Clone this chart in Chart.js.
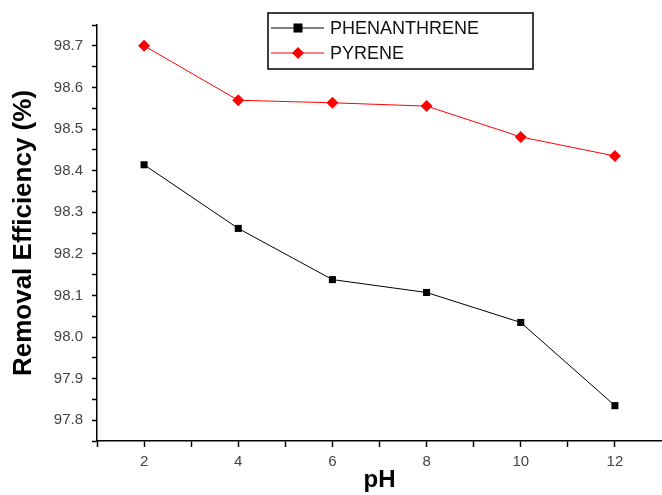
<!DOCTYPE html>
<html>
<head>
<meta charset="utf-8">
<script src="https://cdn.jsdelivr.net/npm/chart.js@4/dist/chart.umd.min.js"></script>
<style>
  html, body { margin: 0; padding: 0; background: #fff; }
  #wrap { width: 662px; height: 495px; }
</style>
</head>
<body>
<div id="wrap"><canvas id="chart" width="662" height="495"></canvas></div>
<script>
const phValues     = [2, 4, 6, 8, 10, 12];
const phenanthrene = [98.414, 98.261, 98.138, 98.107, 98.035, 97.835];
const pyrene       = [98.700, 98.569, 98.563, 98.555, 98.481, 98.435];
const seriesNames  = ["PHENANTHRENE", "PYRENE"];

const toXY = ys => phValues.map((x, i) => ({ x, y: ys[i] }));

// legend box drawn inside the plot, Origin style
const boxLegend = {
  id: "boxLegend",
  afterDraw(chart) {
    const c = chart.ctx;
    const x0 = 268, y0 = 13, w = 265, h = 56;
    c.save();
    c.strokeStyle = "#000";
    c.lineWidth = 1.5;
    c.strokeRect(x0, y0, w, h);
    chart.data.datasets.forEach((ds, i) => {
      const yy = y0 + 15 + i * 25;
      c.strokeStyle = ds.borderColor;
      c.lineWidth = 1;
      c.beginPath(); c.moveTo(x0 + 3, yy); c.lineTo(x0 + 56, yy); c.stroke();
      c.fillStyle = ds.pointBackgroundColor;
      const mx = x0 + 30;
      if (ds.pointStyle === "rect") {
        c.fillRect(mx - 4.5, yy - 4.5, 9, 9);
      } else {
        c.beginPath();
        c.moveTo(mx, yy - 6); c.lineTo(mx + 6, yy); c.lineTo(mx, yy + 6); c.lineTo(mx - 6, yy);
        c.closePath(); c.fill();
      }
      c.fillStyle = "#111";
      c.font = "18px Arial, 'Liberation Sans'";
      c.textBaseline = "middle";
      c.fillText(ds.label, x0 + 62, yy + 1);
    });
    c.restore();
  }
};

new Chart(document.getElementById("chart"), {
  type: "line",
  plugins: [boxLegend],
  data: {
    datasets: [
      {
        label: seriesNames[0], data: toXY(phenanthrene),
        borderColor: "#000", backgroundColor: "#000", pointBackgroundColor: "#000",
        borderWidth: 1, pointStyle: "rect", pointRadius: 5, pointBorderWidth: 0
      },
      {
        label: seriesNames[1], data: toXY(pyrene),
        borderColor: "#ff0000", backgroundColor: "#ff0000", pointBackgroundColor: "#ff0000",
        borderWidth: 1, pointStyle: "rectRot", pointRadius: 6, pointBorderWidth: 0
      }
    ]
  },
  options: {
    responsive: false,
    animation: false,
    layout: { autoPadding: false, padding: { top: 25, right: 0, left: 0, bottom: 0 } },
    plugins: { legend: { display: false }, tooltip: { enabled: false } },
    scales: {
      x: {
        type: "linear", min: 1, max: 13,
        // drop the tick at the right end so no label padding is reserved there
        afterBuildTicks: s => { s.ticks = s.ticks.filter(t => t.value < 12.5); },
        afterFit: s => { s.height = 54; },
        border: { color: "#000", width: 1.5 },
        grid: { display: true, drawOnChartArea: false, drawTicks: true, tickLength: 6, color: "#000", tickWidth: 1.5 },
        ticks: {
          stepSize: 1, padding: 6, color: "#444",
          font: { family: "Arial, 'Liberation Sans'", size: 15 },
          callback: v => (v % 2 === 0 && v >= 2 && v <= 12) ? String(v) : ""
        },
        title: {
          display: true, text: "pH", color: "#000", padding: { top: 0, bottom: 0 },
          font: { family: "Arial, 'Liberation Sans'", size: 24, weight: "bold" }
        }
      },
      y: {
        type: "linear", min: 97.75, max: 98.75,
        afterFit: s => { s.width = 97; },
        border: { color: "#000", width: 1.5 },
        grid: { display: true, drawOnChartArea: false, drawTicks: true, tickLength: 5, color: "#000", tickWidth: 1.5 },
        ticks: {
          stepSize: 0.05, padding: 9, color: "#444", autoSkip: false,
          font: { family: "Arial, 'Liberation Sans'", size: 15 },
          callback: v => {
            const t = Math.round(v * 100);
            return (t % 10 === 0 && v < 98.745) ? (t / 100).toFixed(1) : "";
          }
        },
        title: {
          display: true, text: "Removal Efficiency (%)", color: "#000", padding: { top: 8, bottom: 4 },
          font: { family: "Arial, 'Liberation Sans'", size: 26, weight: "bold" }
        }
      }
    }
  }
});
</script>
</body>
</html>
